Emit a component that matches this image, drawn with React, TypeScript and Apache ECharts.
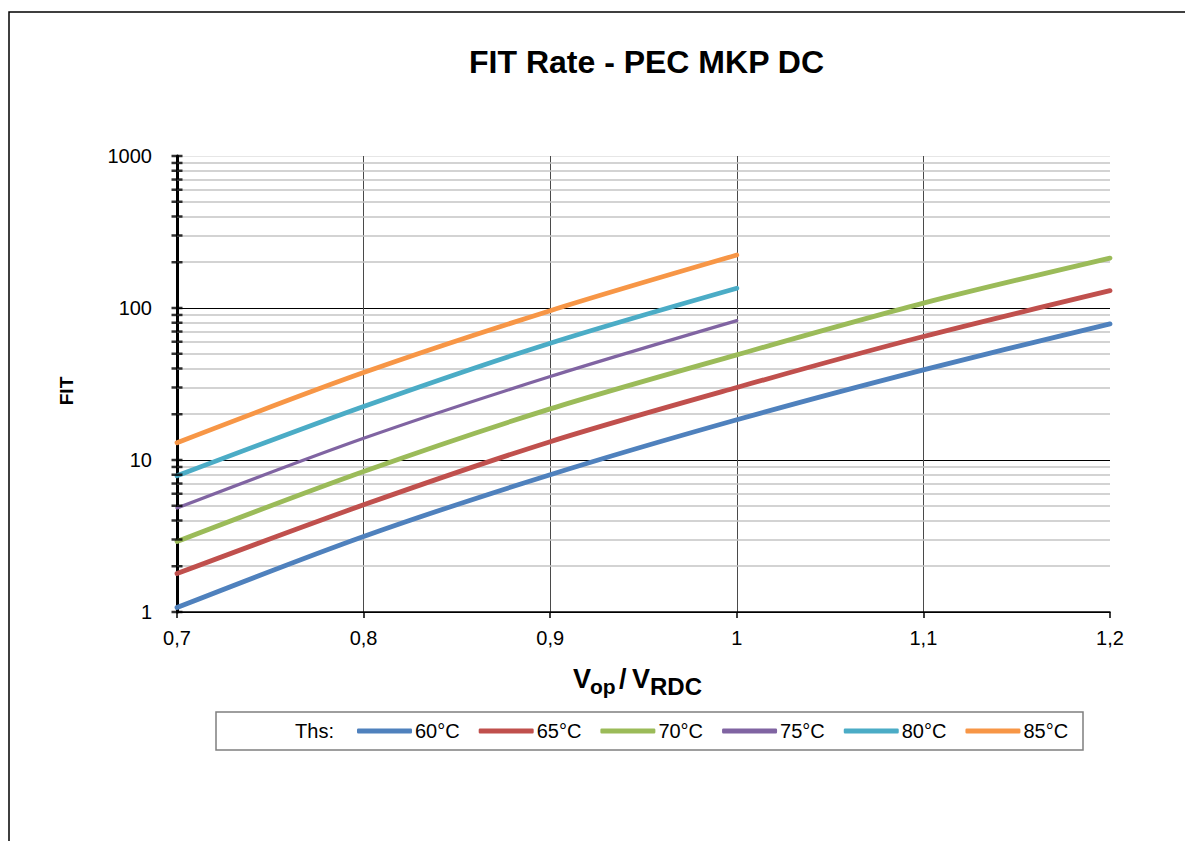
import React, { useEffect, useRef } from "react";
import * as echarts from "echarts";

const X_VALUES = [0.7, 0.8, 0.9, 1.0, 1.1, 1.2];
const SERIES_NAMES = ["60°C", "65°C", "70°C", "75°C", "80°C", "85°C"];
const T60 = [1.07, 3.14, 8.0, 18.4, 39.2, 78.6];
const T65 = [1.79, 5.07, 13.2, 30.0, 64.9, 130];
const T70 = [2.91, 8.4, 21.7, 49.2, 107.6, 213];
const T75 = [4.83, 13.9, 35.4, 82.6];
const T80 = [7.87, 22.5, 58.7, 135];
const T85 = [13.0, 37.6, 96, 223];
const SERIES_VALUES = [T60, T65, T70, T75, T80, T85];
const COLORS = ["#4F81BD", "#C0504D", "#9BBB59", "#8064A2", "#4BACC6", "#F79646"];
const WIDTHS = [4.8, 4.8, 4.8, 3.2, 4.8, 4.8];
const MINOR_Y = [2, 3, 4, 5, 6, 7, 8, 9, 20, 30, 40, 50, 60, 70, 80, 90, 200, 300, 400, 500, 600, 700, 800, 900];
const MAJOR_Y = [1, 10, 100, 1000];
const TITLE = "FIT Rate - PEC MKP DC";
const FONT = "'Liberation Sans', Arial, sans-serif";

export default function App() {
  const ref = useRef<HTMLDivElement>(null);
  useEffect(() => {
    if (!ref.current) return;
    const chart = echarts.init(ref.current, null, { renderer: "svg" });
    const lineSeries = SERIES_VALUES.map((vals, i) => ({
      name: SERIES_NAMES[i],
      type: "line",
      data: vals.map((v, j) => [X_VALUES[j], v]),
      symbol: "none",
      smooth: 0.3,
      z: 5,
      lineStyle: { color: COLORS[i], width: WIDTHS[i], cap: "round" },
      itemStyle: { color: COLORS[i] },
    }));
    const tickSeries = {
      name: "ticks",
      type: "scatter",
      silent: true,
      symbol: "rect",
      symbolSize: [11, 2.5],
      itemStyle: { color: "#000" },
      z: 6,
      data: MINOR_Y.concat(MAJOR_Y).map((v) => [X_VALUES[0], v]),
      markLine: {
        silent: true,
        symbol: "none",
        label: { show: false },
        lineStyle: { color: "#c4c4c4", width: 1.5, type: "solid" },
        data: MINOR_Y.map((v) => ({ yAxis: v })),
        z: 1,
      },
    };
    chart.setOption({
      animation: false,
      backgroundColor: "#fff",
      textStyle: { fontFamily: FONT },
      title: {
        text: TITLE,
        left: 464,
        top: 41,
        textStyle: { fontSize: 32, fontWeight: "bold", color: "#000", fontFamily: FONT },
      },
      grid: { left: 177, right: 75, top: 156, bottom: 229, containLabel: false },
      xAxis: {
        type: "value",
        min: 0.7,
        max: 1.2,
        interval: 0.1,
        axisLine: { show: true, lineStyle: { color: "#000", width: 1.5 } },
        axisTick: { show: true, length: 6, lineStyle: { color: "#000", width: 1.5 } },
        axisLabel: {
          fontSize: 20,
          color: "#000",
          margin: 16,
          fontFamily: FONT,
          formatter: (v: number) => String(Number(v.toFixed(1))).replace(".", ","),
        },
        splitLine: {
          show: true,
          lineStyle: { color: ["#4a4a4a", "#4a4a4a", "#4a4a4a", "#4a4a4a", "#4a4a4a", "rgba(0,0,0,0)"], width: 1 },
        },
      },
      yAxis: {
        type: "log",
        logBase: 10,
        min: 1,
        max: 1000,
        axisLine: { show: true, lineStyle: { color: "#000", width: 3 } },
        axisTick: { show: false },
        axisLabel: {
          fontSize: 20,
          color: "#000",
          margin: 25,
          fontFamily: FONT,
          formatter: (v: number) => String(Math.round(v)),
        },
        splitLine: {
          show: true,
          lineStyle: { color: ["#000", "#000", "#000", "#e6e6e6"], width: 1 },
        },
      },
      legend: {
        data: SERIES_NAMES,
        left: 352,
        top: 716,
        icon: "roundRect",
        itemWidth: 55,
        itemHeight: 5,
        itemGap: 19,
        textStyle: { fontSize: 20, color: "#000", fontFamily: FONT, padding: [0, 0, 0, -2] },
      },
      graphic: [
        {
          type: "rect",
          silent: true,
          z: -10,
          shape: { x: 9, y: 12, width: 1300, height: 1000 },
          style: { fill: "none", stroke: "#000", lineWidth: 1.5 },
        },
        {
          type: "rect",
          silent: true,
          z: -5,
          shape: { x: 216, y: 712, width: 867, height: 38 },
          style: { fill: "none", stroke: "#7f7f7f", lineWidth: 1.5 },
        },
        {
          type: "text",
          x: 334,
          y: 731,
          style: { text: "Ths:", fontSize: 20, fill: "#000", fontFamily: FONT, verticalAlign: "middle", align: "right" },
        },
        {
          type: "text",
          x: 66,
          y: 391,
          rotation: Math.PI / 2,
          style: { text: "FIT", fontSize: 19, fontWeight: "bold", fill: "#000", fontFamily: FONT, align: "center", verticalAlign: "middle" },
        },
        {
          type: "text",
          x: 573,
          y: 679,
          style: { text: "V", fontSize: 27, fontWeight: "bold", fill: "#000", fontFamily: FONT, align: "left", verticalAlign: "middle" },
        },
        {
          type: "text",
          x: 590,
          y: 686,
          style: { text: "op", fontSize: 21, fontWeight: "bold", fill: "#000", fontFamily: FONT, align: "left", verticalAlign: "middle" },
        },
        {
          type: "text",
          x: 619,
          y: 679,
          style: { text: "/", fontSize: 27, fontWeight: "bold", fill: "#000", fontFamily: FONT, align: "left", verticalAlign: "middle" },
        },
        {
          type: "text",
          x: 632,
          y: 679,
          style: { text: "V", fontSize: 27, fontWeight: "bold", fill: "#000", fontFamily: FONT, align: "left", verticalAlign: "middle" },
        },
        {
          type: "text",
          x: 650,
          y: 686,
          style: { text: "RDC", fontSize: 24, fontWeight: "bold", fill: "#000", fontFamily: FONT, align: "left", verticalAlign: "middle" },
        },
      ],
      series: [tickSeries, ...lineSeries],
    });
    return () => chart.dispose();
  }, []);
  return <div ref={ref} style={{ position: "absolute", left: 0, top: 0, width: 1185, height: 841 }} />;
}
